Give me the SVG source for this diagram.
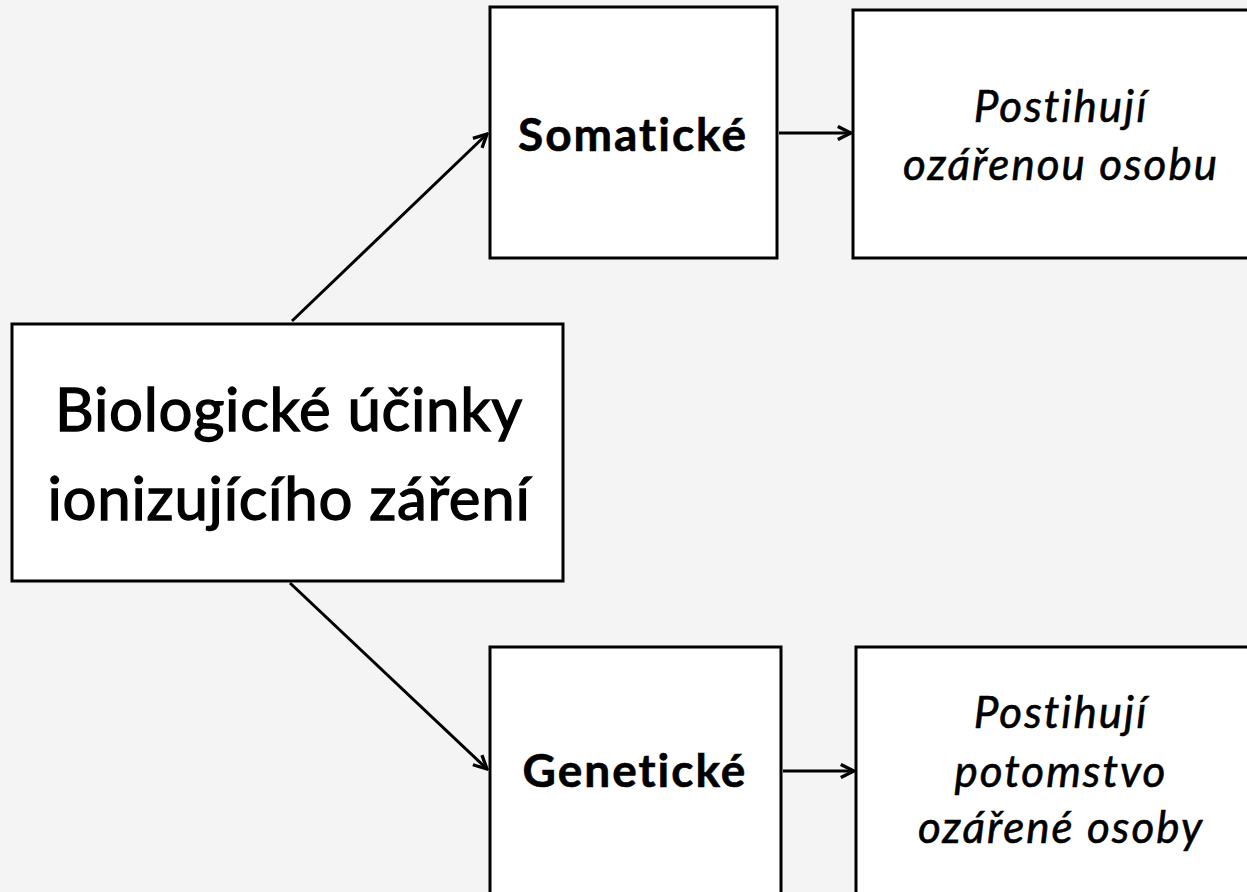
<svg xmlns="http://www.w3.org/2000/svg" width="1247" height="892" viewBox="0 0 1247 892">
<defs>
<style>
.box{fill:#ffffff;stroke:#000000;stroke-width:3}
.t{font-family:Lato,"Open Sans","Liberation Sans",sans-serif;fill:#000000;text-anchor:middle;stroke:#000000;stroke-width:0.6}
.main{font-size:60px;letter-spacing:0.7px;stroke-width:1.3}
.bold{font-size:46px;font-weight:bold;letter-spacing:2px}
.it{font-size:44px;font-style:italic;letter-spacing:2px}
.conn{stroke:#000000;stroke-width:3;fill:none;marker-end:url(#arr)}
</style>
<marker id="arr" viewBox="0 0 10 10" refX="9" refY="5" markerWidth="5.5" markerHeight="5.5" orient="auto" markerUnits="strokeWidth">
<path d="M1,1 L9,5 L1,9" fill="none" stroke="#000" stroke-width="2"/>
</marker>
</defs>
<rect width="1247" height="892" fill="#f4f4f4"/>
<g id="connectors">
<line class="conn" x1="292" y1="321" x2="487" y2="134"/>
<line class="conn" x1="290" y1="583" x2="487" y2="769"/>
<line class="conn" x1="779" y1="133" x2="851" y2="133"/>
<line class="conn" x1="783" y1="771" x2="854" y2="771"/>
</g>
<g id="n-main">
<rect class="box" x="12" y="324" width="551" height="257"/>
<text class="t main" x="289" y="431">Biologické účinky</text>
<text class="t main" x="289" y="520">ionizujícího záření</text>
</g>
<g id="n-somaticke">
<rect class="box" x="490" y="7" width="287" height="251"/>
<text class="t bold" x="633" y="151">Somatické</text>
</g>
<g id="n-postihuji-1">
<rect class="box" x="853" y="10" width="398" height="248"/>
<text class="t it" x="1061" y="122">Postihují</text>
<text class="t it" x="1061" y="180">ozářenou osobu</text>
</g>
<g id="n-geneticke">
<rect class="box" x="490" y="647" width="291" height="250"/>
<text class="t bold" x="635" y="787">Genetické</text>
</g>
<g id="n-postihuji-2">
<rect class="box" x="856" y="647" width="395" height="250"/>
<text class="t it" x="1061" y="728">Postihují</text>
<text class="t it" x="1061" y="787">potomstvo</text>
<text class="t it" x="1061" y="843">ozářené osoby</text>
</g>
</svg>
